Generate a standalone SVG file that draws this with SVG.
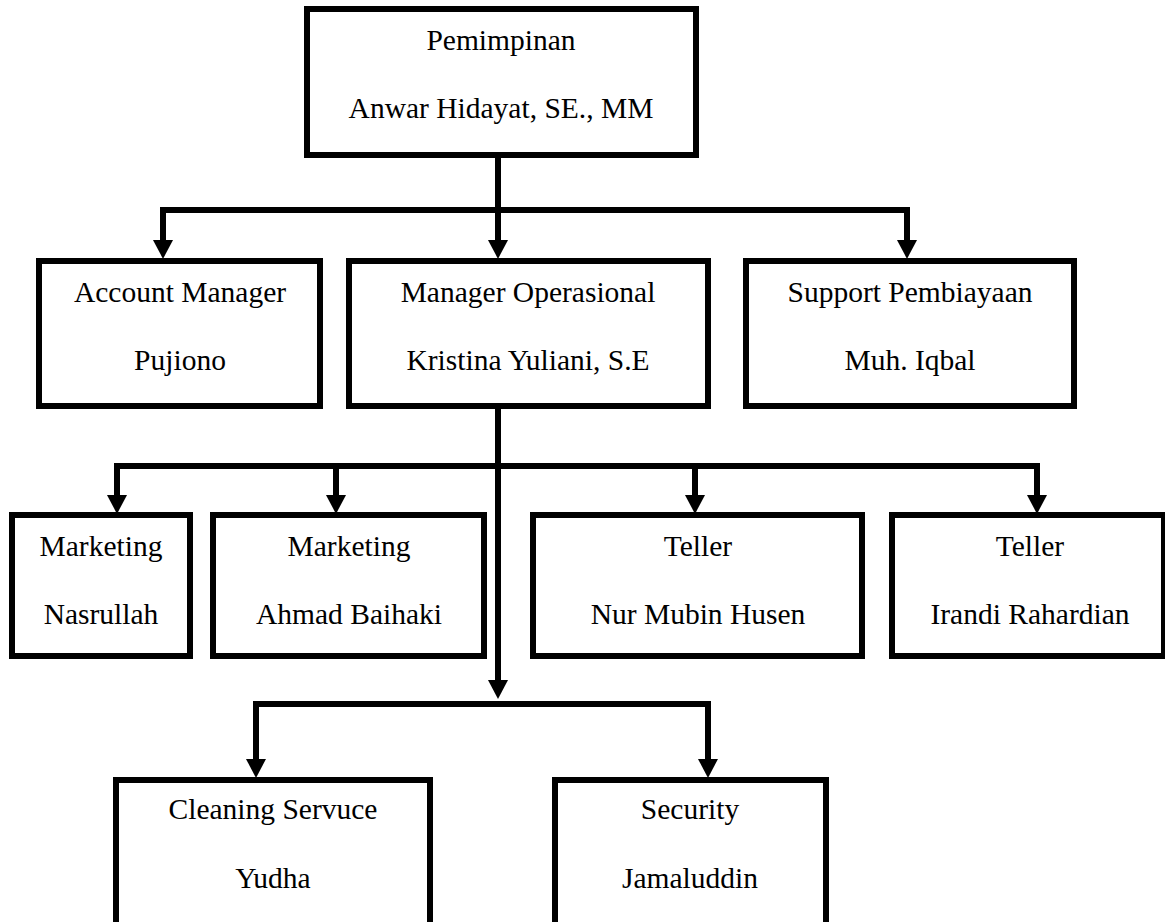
<svg xmlns="http://www.w3.org/2000/svg" width="1165" height="922" viewBox="0 0 1165 922">
<style>
.box{fill:#fff;stroke:#000;stroke-width:6}
.t{font-family:"Liberation Serif","Times New Roman",serif;font-size:29.5px;fill:#000;text-anchor:middle}
.c{fill:none;stroke:#000;stroke-width:6;stroke-linejoin:miter}
</style>
<defs>
<marker id="ah" markerUnits="userSpaceOnUse" markerWidth="20" markerHeight="20" viewBox="0 0 18 19" refX="1" refY="9.5" orient="auto">
<path d="M0,0 L18,9.5 L0,19 z" fill="#000"/>
</marker>
</defs>
<rect width="1165" height="922" fill="#fff"/>
<g id="connectors">
<path class="c" d="M498,158 V241" marker-end="url(#ah)"/>
<path class="c" d="M498,210 H163 V241" marker-end="url(#ah)"/>
<path class="c" d="M498,210 H907 V241" marker-end="url(#ah)"/>
<path class="c" d="M498,409 V681" marker-end="url(#ah)"/>
<path class="c" d="M498,466 H117 V496" marker-end="url(#ah)"/>
<path class="c" d="M498,466 H336 V496" marker-end="url(#ah)"/>
<path class="c" d="M498,466 H695 V496" marker-end="url(#ah)"/>
<path class="c" d="M498,466 H1037 V496" marker-end="url(#ah)"/>
<path class="c" d="M498,704 H256 V760" marker-end="url(#ah)"/>
<path class="c" d="M498,704 H708 V760" marker-end="url(#ah)"/>
</g>
<g id="pemimpinan">
<rect class="box" x="307" y="9" width="389" height="146"/>
<text class="t" x="501" y="50">Pemimpinan</text>
<text class="t" x="501" y="118">Anwar Hidayat, SE., MM</text>
</g>
<g id="account-manager">
<rect class="box" x="39" y="261" width="281" height="145"/>
<text class="t" x="180" y="302">Account Manager</text>
<text class="t" x="180" y="370">Pujiono</text>
</g>
<g id="manager-operasional">
<rect class="box" x="349" y="261" width="359" height="145"/>
<text class="t" x="528" y="302">Manager Operasional</text>
<text class="t" x="528" y="370">Kristina Yuliani, S.E</text>
</g>
<g id="support-pembiayaan">
<rect class="box" x="746" y="261" width="328" height="145"/>
<text class="t" x="910" y="302">Support Pembiayaan</text>
<text class="t" x="910" y="370">Muh. Iqbal</text>
</g>
<g id="marketing-nasrullah">
<rect class="box" x="12" y="515" width="178" height="141"/>
<text class="t" x="101" y="556">Marketing</text>
<text class="t" x="101" y="624">Nasrullah</text>
</g>
<g id="marketing-ahmad">
<rect class="box" x="213" y="515" width="271" height="141"/>
<text class="t" x="349" y="556">Marketing</text>
<text class="t" x="349" y="624">Ahmad Baihaki</text>
</g>
<g id="teller-nur">
<rect class="box" x="533" y="515" width="329" height="141"/>
<text class="t" x="698" y="556">Teller</text>
<text class="t" x="698" y="624">Nur Mubin Husen</text>
</g>
<g id="teller-irandi">
<rect class="box" x="892" y="515" width="272" height="141"/>
<text class="t" x="1030" y="556">Teller</text>
<text class="t" x="1030" y="624">Irandi Rahardian</text>
</g>
<g id="cleaning-service">
<rect class="box" x="116" y="780" width="314" height="170"/>
<text class="t" x="273" y="819">Cleaning Servuce</text>
<text class="t" x="273" y="888">Yudha</text>
</g>
<g id="security">
<rect class="box" x="555" y="780" width="271" height="170"/>
<text class="t" x="690" y="819">Security</text>
<text class="t" x="690" y="888">Jamaluddin</text>
</g>
</svg>
